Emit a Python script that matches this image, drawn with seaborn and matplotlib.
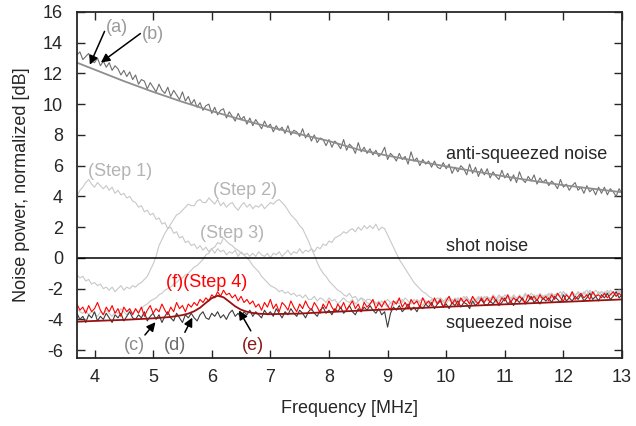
import numpy as np
import pandas as pd
import matplotlib
matplotlib.use('Agg')
import matplotlib.pyplot as plt
import seaborn as sns

# frequency grid of the traces [MHz], 3.7 ... 13.0 in 0.05 steps
freq = np.arange(74, 261) / 20

# noisy traces [dB]; one row = 1 MHz (last row 12.7-13.0)
anti_sq = [13.2, 13.4, 12.9, 13.1, 13.3, 12.8, 12.7, 13.0, 12.5, 12.8, 12.4, 12.7, 12.2, 12.5, 12.3, 11.9, 12.2, 11.8, 12.1, 11.6,
           11.9, 11.3, 11.6, 11.5, 11.0, 11.4, 11.1, 10.8, 11.3, 10.9, 10.7, 11.1, 10.5, 10.9, 10.6, 10.3, 10.8, 10.2, 10.5, 10.0,
           10.3, 9.8, 10.1, 9.6, 9.9, 10.0, 9.4, 9.8, 9.3, 9.6, 9.7, 9.1, 9.5, 9.2, 8.9, 9.4, 9.0, 9.2, 8.7, 9.1,
           8.6, 9.0, 8.7, 8.4, 8.9, 8.5, 8.7, 8.2, 8.6, 8.3, 8.5, 8.1, 8.6, 8.0, 8.3, 8.2, 7.9, 8.4, 7.8, 8.1,
           7.6, 8.0, 7.5, 7.8, 7.7, 7.3, 7.7, 7.2, 7.6, 7.4, 7.1, 7.7, 7.0, 7.4, 7.2, 6.8, 7.5, 6.9, 7.2, 6.8,
           7.1, 6.7, 7.0, 6.6, 6.8, 7.2, 6.4, 6.8, 6.6, 6.3, 6.8, 6.4, 6.6, 6.1, 6.9, 6.3, 6.5, 6.0, 6.4, 6.1,
           6.3, 5.9, 6.3, 5.9, 5.8, 6.2, 5.8, 6.1, 5.5, 5.9, 5.6, 6.0, 5.8, 5.4, 6.1, 5.5, 5.9, 5.3, 5.8, 5.4,
           5.8, 5.2, 5.6, 5.3, 5.1, 5.7, 5.2, 5.5, 5.0, 5.4, 4.9, 5.6, 5.1, 4.9, 5.3, 5.0, 5.4, 4.8, 5.2, 4.9,
           5.1, 4.7, 5.0, 4.8, 4.5, 5.1, 4.6, 4.8, 4.4, 4.7, 4.9, 4.4, 4.6, 4.2, 4.7, 4.3, 4.5, 4.1, 4.6, 4.2,
           4.6, 4.1, 4.5, 4.3, 4.0, 4.5, 4.2]

step1 = [4.0, 4.4, 4.6, 4.9, 5.1, 4.8, 4.6, 4.9, 4.7, 4.5, 4.7, 4.4, 4.6, 4.2, 4.4, 4.1, 4.2, 3.9, 4.0, 3.7,
         3.6, 3.3, 3.4, 3.0, 3.1, 2.8, 2.9, 2.5, 2.6, 2.2, 2.3, 1.9, 2.0, 1.6, 1.7, 1.3, 1.4, 1.0, 1.1, 0.8,
         0.9, 0.6, 0.8, 0.5, 0.7, 0.4, 0.6, 0.3, 0.6, 0.4, 0.5, 0.2, 0.4, 0.3, 0.5, 0.1, 0.4, 0.2, 0.3, 0.1,
         0.3, 0.1, 0.4, 0.2, 0.1, 0.3, 0.0, 0.3, 0.2, 0.4, 0.1, 0.3, 0.5, 0.2, 0.4, 0.3, 0.6, 0.3, 0.5, 0.4,
         0.6, 0.4, 0.7, 0.6, 0.9, 0.8, 1.1, 1.0, 1.3, 1.4, 1.5, 1.7, 1.6, 1.8, 1.9, 1.7, 2.0, 1.8, 2.1, 1.9,
         2.1, 1.9, 2.2, 1.8, 2.0, 1.9, 1.5, 1.1, 0.7, 0.3, -0.1, -0.4, -0.7, -1.0, -1.3, -1.6, -1.8, -2.0, -2.2, -2.3,
         -2.5, -2.6, -2.8, -2.6, -2.7, -2.9, -2.6, -2.8, -2.7, -2.9, -2.6, -2.8, -2.5, -2.7, -2.9, -2.6, -2.8, -2.5, -2.7, -2.6,
         -2.5, -2.7, -2.4, -2.6, -2.8, -2.5, -2.7, -2.4, -2.6, -2.5, -2.7, -2.4, -2.6, -2.3, -2.5, -2.7, -2.4, -2.6, -2.3, -2.5,
         -2.4, -2.6, -2.3, -2.5, -2.4, -2.2, -2.5, -2.3, -2.6, -2.2, -2.4, -2.3, -2.5, -2.2, -2.4, -2.1, -2.3, -2.5, -2.2, -2.4,
         -2.2, -2.4, -2.1, -2.3, -2.5, -2.2, -2.3]

step2 = [-1.1, -1.3, -1.2, -1.5, -1.4, -1.7, -1.6, -1.8, -1.7, -2.0, -1.9, -2.1, -1.9, -2.2, -2.0, -1.8, -2.1, -1.9, -2.0, -1.8,
         -1.9, -1.7, -1.6, -1.4, -1.2, -0.8, -0.4, 0.1, 0.8, 1.2, 1.6, 1.9, 2.2, 2.5, 2.8, 2.9, 3.1, 3.3, 3.5, 3.4,
         3.4, 3.7, 3.8, 3.6, 3.6, 3.9, 3.7, 3.5, 3.8, 3.4, 3.6, 3.3, 3.5, 3.6, 3.3, 3.1, 3.4, 3.6, 3.3, 3.5,
         3.2, 3.4, 3.3, 3.5, 3.2, 3.4, 3.6, 3.5, 3.7, 3.8, 3.6, 3.4, 3.1, 2.8, 2.6, 2.4, 2.1, 1.9, 1.5, 1.1,
         0.6, 0.2, -0.3, -0.7, -1.0, -1.2, -1.5, -1.7, -1.9, -2.1, -2.2, -2.4, -2.5, -2.3, -2.6, -2.5, -2.8, -2.6, -2.7, -2.9,
         -3.0, -2.8, -2.9, -3.1, -2.8, -3.0, -3.2, -2.9, -3.1, -2.8, -3.0, -2.7, -2.9, -3.1, -2.8, -3.0, -2.7, -2.9, -3.1, -2.8,
         -3.0, -2.8, -2.7, -2.9, -2.6, -2.8, -3.0, -2.7, -2.9, -2.6, -2.8, -2.7, -2.9, -2.6, -2.8, -3.0, -2.7, -2.6, -2.8, -2.5,
         -2.8, -2.6, -2.7, -2.9, -2.5, -2.7, -2.4, -2.6, -2.8, -2.5, -2.7, -2.5, -2.8, -2.4, -2.6, -2.5, -2.7, -2.4, -2.6, -2.5,
         -2.6, -2.4, -2.3, -2.6, -2.4, -2.5, -2.2, -2.4, -2.6, -2.3, -2.5, -2.2, -2.4, -2.3, -2.5, -2.2, -2.4, -2.1, -2.3, -2.2,
         -2.4, -2.2, -2.3, -2.5, -2.2, -2.1, -2.3]

step3 = [-3.3, -3.5, -3.6, -3.4, -3.7, -3.5, -3.6, -3.8, -3.5, -3.7, -3.4, -3.6, -3.8, -3.5, -3.6, -3.3, -3.5, -3.7, -3.4, -3.6,
         -3.4, -3.5, -3.3, -3.1, -3.0, -2.8, -2.7, -2.6, -2.4, -2.3, -2.1, -2.0, -1.9, -1.7, -1.6, -1.4, -1.3, -1.1, -1.0, -0.8,
         -0.6, -0.5, -0.3, -0.1, 0.2, 0.3, 0.6, 0.7, 1.0, 0.9, 1.3, 1.1, 0.9, 0.8, 0.6, 0.5, 0.3, 0.2, 0.0, -0.2,
         -0.5, -0.7, -0.9, -1.2, -1.4, -1.6, -1.8, -1.9, -2.0, -2.2, -2.1, -2.3, -2.2, -2.4, -2.3, -2.5, -2.4, -2.6, -2.4, -2.7,
         -2.7, -2.5, -2.8, -2.6, -2.7, -2.9, -2.6, -2.8, -2.7, -3.0, -2.8, -2.6, -2.8, -2.9, -2.7, -3.0, -2.8, -2.6, -2.9, -2.7,
         -2.7, -2.9, -3.0, -2.8, -3.1, -2.9, -2.7, -2.9, -2.8, -3.0, -2.7, -2.9, -2.6, -2.8, -3.0, -2.7, -2.9, -2.8, -2.6, -2.8,
         -2.9, -2.7, -2.8, -3.0, -2.6, -2.8, -2.7, -2.5, -2.8, -2.9, -2.6, -2.8, -2.7, -2.5, -2.8, -2.6, -2.9, -2.7, -2.5, -2.8,
         -2.6, -2.8, -2.5, -2.7, -2.4, -2.6, -2.8, -2.5, -2.7, -2.4, -2.6, -2.5, -2.7, -2.4, -2.6, -2.3, -2.5, -2.7, -2.4, -2.6,
         -2.5, -2.3, -2.6, -2.4, -2.3, -2.5, -2.2, -2.4, -2.6, -2.3, -2.5, -2.2, -2.4, -2.3, -2.1, -2.4, -2.2, -2.5, -2.3, -2.2,
         -2.3, -2.1, -2.4, -2.2, -2.3, -2.1, -2.2]

squeezed = [-3.6, -4.0, -3.8, -4.2, -3.7, -3.9, -3.5, -4.1, -3.8, -4.0, -3.6, -3.9, -4.2, -3.7, -3.9, -3.6, -4.1, -3.8, -3.5, -3.9,
            -4.0, -3.7, -3.9, -3.5, -4.1, -3.8, -3.6, -4.0, -3.7, -4.2, -3.8, -3.5, -3.9, -4.1, -3.6, -3.9, -4.2, -3.7, -3.9, -3.6,
            -3.9, -4.1, -3.7, -3.5, -3.9, -4.0, -3.6, -3.8, -3.5, -3.9, -3.7, -4.0, -3.6, -3.4, -3.8, -3.6, -3.9, -3.5, -3.7, -3.4,
            -3.8, -3.5, -3.7, -3.9, -3.4, -3.7, -3.5, -3.8, -3.3, -3.6, -3.9, -3.5, -3.7, -3.3, -3.6, -3.8, -3.4, -3.6, -3.9, -3.5,
            -3.3, -3.6, -3.8, -3.4, -3.2, -3.6, -3.4, -3.7, -3.3, -3.5, -3.2, -3.6, -3.4, -3.1, -3.5, -3.7, -3.3, -3.5, -3.2, -3.4,
            -3.1, -3.4, -3.6, -3.3, -3.7, -3.5, -4.5, -3.6, -3.2, -3.4, -3.1, -3.5, -3.3, -3.0, -3.4, -3.2, -3.5, -3.1, -3.3, -3.0,
            -3.2, -2.9, -3.3, -3.0, -2.8, -3.2, -3.0, -3.3, -2.9, -3.1, -2.8, -3.2, -2.9, -3.0, -3.3, -2.8, -3.1, -2.9, -2.7, -3.0,
            -3.1, -2.8, -3.0, -2.7, -3.1, -2.9, -2.6, -3.0, -2.8, -3.1, -2.7, -2.9, -2.6, -3.0, -2.8, -2.5, -2.9, -2.7, -3.0, -2.6,
            -2.8, -2.6, -2.9, -2.5, -2.7, -2.9, -2.4, -2.8, -2.6, -2.8, -2.5, -2.7, -2.4, -2.8, -2.6, -2.3, -2.7, -2.5, -2.8, -2.4,
            -2.6, -2.3, -2.7, -2.5, -2.2, -2.6, -2.4]

step4 = [-3.0, -3.4, -3.2, -3.6, -3.1, -3.5, -3.3, -2.9, -3.4, -3.7, -3.2, -3.5, -3.1, -3.6, -3.3, -3.8, -3.2, -3.5, -3.3, -3.7,
         -3.3, -3.6, -3.2, -3.8, -3.4, -3.1, -3.6, -3.3, -3.5, -3.0, -3.4, -3.7, -3.2, -3.5, -2.9, -3.3, -3.1, -3.5, -3.0, -3.2,
         -2.9, -3.1, -2.7, -2.9, -2.6, -2.8, -2.4, -2.6, -2.2, -2.5, -2.1, -2.4, -2.3, -2.6, -2.4, -2.8, -2.5, -2.9, -2.7, -3.0,
         -2.8, -3.2, -3.0, -3.4, -2.9, -3.2, -2.7, -3.3, -3.0, -3.5, -2.9, -3.1, -3.4, -2.8, -3.2, -3.5, -3.0, -3.3, -2.8, -3.2,
         -3.4, -2.9, -3.2, -3.6, -3.0, -3.3, -2.8, -3.2, -3.5, -3.0, -3.3, -2.9, -3.4, -3.1, -2.8, -3.3, -3.0, -3.5, -2.9, -3.2,
         -3.0, -2.7, -3.3, -2.9, -3.2, -2.8, -3.1, -3.4, -2.8, -3.0, -2.6, -3.2, -2.9, -3.3, -2.7, -3.0, -2.8, -3.2, -2.6, -3.0,
         -2.8, -3.1, -2.6, -3.0, -2.7, -3.2, -2.8, -2.5, -3.0, -2.7, -3.1, -2.6, -2.9, -2.7, -3.0, -2.5, -2.8, -3.0, -2.6, -2.9,
         -2.6, -2.9, -2.5, -2.8, -3.0, -2.6, -2.8, -2.4, -2.9, -2.6, -2.8, -2.5, -2.7, -2.9, -2.4, -2.7, -2.5, -2.8, -2.4, -2.7,
         -2.5, -2.8, -2.4, -2.7, -2.3, -2.6, -2.8, -2.4, -2.6, -2.2, -2.7, -2.5, -2.3, -2.6, -2.4, -2.7, -2.2, -2.5, -2.4, -2.6,
         -2.3, -2.6, -2.4, -2.2, -2.5, -2.3, -2.5]

# smooth fits
anti_fit_f = [3.7, 4.0, 4.5, 5.0, 5.5, 6.0, 6.5, 7.0, 7.5, 8.0,
              8.5, 9.0, 9.5, 10.0, 10.5, 11.0, 11.5, 12.0, 12.5, 13.0]
anti_fit_db = [12.7, 12.25, 11.5, 10.8, 10.15, 9.55, 9.0, 8.5, 8.05, 7.6,
               7.05, 6.65, 6.3, 5.95, 5.62, 5.3, 5.0, 4.73, 4.5, 4.27]

sq_fit_f = [3.7, 4.0, 4.5, 5.0, 5.3, 5.5, 5.6, 5.7, 5.8, 5.9, 6.0, 6.1, 6.2,
            6.3, 6.4, 6.5, 6.6, 6.7, 6.8, 7.0, 7.5, 8.0, 9.0, 10.0, 11.0,
            12.0, 13.0]
sq_fit_db = [-4.15, -4.1, -4.03, -3.93, -3.84, -3.72, -3.62, -3.47, -3.24,
             -2.92, -2.62, -2.46, -2.56, -2.85, -3.15, -3.37, -3.5, -3.58,
             -3.63, -3.66, -3.62, -3.52, -3.35, -3.18, -3.02, -2.86, -2.7]

traces = ['step1', 'step2', 'step3', 'anti', 'squeezed', 'step4']
colors = {'step1': '#c8c8c8', 'step2': '#c8c8c8', 'step3': '#c8c8c8',
          'anti': '#6f6f6f', 'squeezed': '#3c3c3c', 'step4': '#ff0000'}

df = pd.concat([
    pd.DataFrame({'freq': freq, 'db': vals, 'trace': name})
    for name, vals in zip(traces, [step1, step2, step3, anti_sq, squeezed, step4])
])

sns.set_style('ticks')
plt.rcParams['font.family'] = ['Liberation Sans', 'DejaVu Sans']
plt.rcParams['axes.unicode_minus'] = False
FS = 13

fig = plt.figure(figsize=(6.36, 4.26), dpi=100)
ax = fig.add_axes([0.121, 0.160, 0.857, 0.812])

sns.lineplot(data=df, x='freq', y='db', hue='trace', hue_order=traces,
             palette=colors, lw=0.8, legend=False, ax=ax, sort=False)
sns.lineplot(x=anti_fit_f, y=anti_fit_db, color='#8e8e8e', lw=1.3, ax=ax)
sns.lineplot(x=sq_fit_f, y=sq_fit_db, color='#9b1010', lw=1.3, ax=ax)
ax.axhline(0, color='black', lw=1.1)

ax.set_xlim(3.7, 13)
ax.set_ylim(-6.5, 16)
ax.set_xticks(range(4, 14))
ax.set_yticks(range(-6, 17, 2))
ax.set_xlabel('Frequency [MHz]', fontsize=FS, labelpad=10)
ax.set_ylabel('Noise power, normalized [dB]', fontsize=FS, labelpad=9)
ax.tick_params(direction='in', top=True, right=True, length=6, width=1,
               labelsize=FS)
ax.tick_params(axis='x', pad=8)
ax.tick_params(axis='y', pad=10)
for sp in ax.spines.values():
    sp.set_linewidth(1.3)

# labels
ax.text(10.0, 6.7, 'anti-squeezed noise', fontsize=FS, va='center')
ax.text(10.0, 0.72, 'shot noise', fontsize=FS, va='center')
ax.text(10.0, -4.25, 'squeezed noise', fontsize=FS, va='center')
ax.text(4.44, 5.6, '(Step 1)', fontsize=FS, color='#b4b4b4', ha='center', va='center')
ax.text(6.57, 4.4, '(Step 2)', fontsize=FS, color='#b4b4b4', ha='center', va='center')
ax.text(6.35, 1.6, '(Step 3)', fontsize=FS, color='#b4b4b4', ha='center', va='center')
ax.text(5.92, -1.6, '(f)(Step 4)', fontsize=FS, color='#ff0000', ha='center', va='center')

arrow = dict(arrowstyle='-|>', color='black', lw=1.1, mutation_scale=13)
notes = [('(a)', (4.39, 15.0), (4.19, 14.9), (3.9, 12.4), '#9a9a9a'),
         ('(b)', (4.99, 14.55), (4.82, 14.7), (4.07, 12.6), '#9a9a9a'),
         ('(c)', (4.68, -5.7), (4.83, -5.15), (5.07, -4.04), '#8a8a8a'),
         ('(d)', (5.38, -5.7), (5.52, -5.0), (5.69, -3.72), '#6a6a6a'),
         ('(e)', (6.71, -5.7), (6.69, -4.9), (6.44, -3.26), '#8b1a1a')]
for label, pos, start, tip, col in notes:
    ax.text(pos[0], pos[1], label, fontsize=FS, color=col, ha='center', va='center')
    ax.annotate('', xy=tip, xytext=start, arrowprops=arrow)

fig.savefig('out.png', dpi=100)
